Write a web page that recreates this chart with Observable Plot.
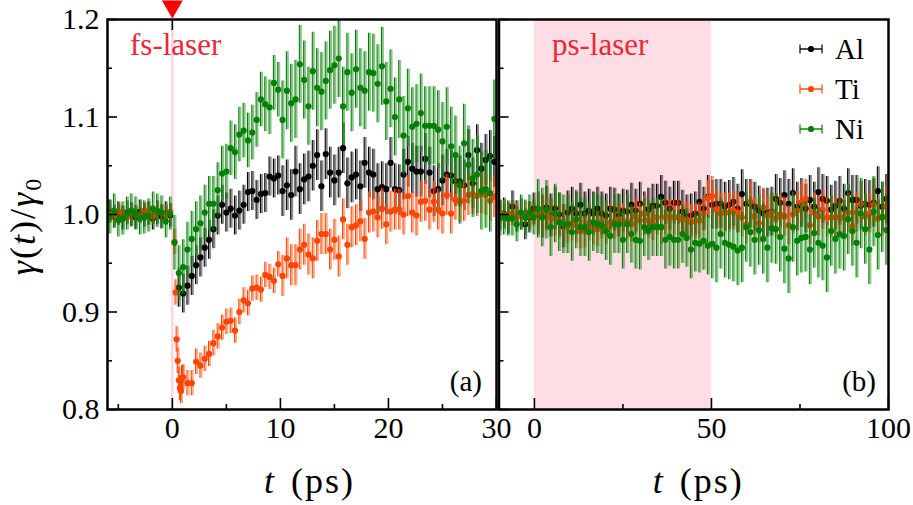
<!DOCTYPE html>
<html><head><meta charset="utf-8">
<script src="https://cdn.jsdelivr.net/npm/d3@7"></script>
<script src="https://cdn.jsdelivr.net/npm/@observablehq/plot@0.6"></script>
<style>
html,body{margin:0;padding:0;background:#fff;}
#chart{position:relative;width:913px;height:505px;}
#chart svg{position:absolute;left:0;top:0;}
#chart svg text{font-family:"Liberation Serif","Times New Roman","DejaVu Serif",serif;}
</style></head><body><div id="chart"></div>
<script>
// ---------- data ----------
const seriesNames = ["Al", "Ti", "Ni"];
const seriesColors = ["#000000", "#ff4500", "#008000"];

// panel (a): fs-laser, time in ps
const tLeft = [-5.8,-5.4,-5.0,-4.6,-4.2,-3.8,-3.4,-3.0,-2.6,-2.2,-1.8,-1.4,-1.0,-0.6,-0.2,
  0.2,0.6,1.0,1.4,1.8,2.2,2.6,3.0,3.4,3.8,
  4.2,4.6,5.0,5.4,5.8,6.2,6.6,7.0,7.4,7.8,
  8.2,8.6,9.0,9.4,9.8,10.2,10.6,11.0,11.4,11.8,
  12.2,12.6,13.0,13.4,13.8,14.2,14.6,15.0,15.4,15.8,
  16.2,16.6,17.0,17.4,17.8,18.2,18.6,19.0,19.4,19.8,
  20.2,20.6,21.0,21.4,21.8,22.2,22.6,23.0,23.4,23.8,
  24.2,24.6,25.0,25.4,25.8,26.2,26.6,27.0,27.4,27.8,
  28.2,28.6,29.0,29.4,29.8];
const alLeft = [1.003,0.998,1.001,0.996,1.002,1.000,0.997,1.003,0.999,1.001,0.996,1.002,0.998,1.001,0.999,
  null,0.925,0.919,0.927,0.937,0.948,0.956,0.966,0.974,0.985,
  0.999,1.010,1.002,1.006,0.999,1.004,1.010,1.023,1.024,1.015,
  1.021,1.022,1.039,1.037,1.040,1.024,1.030,1.020,1.044,1.026,
  1.036,1.039,1.050,1.061,1.029,1.062,1.043,1.035,1.043,1.068,
  1.032,1.038,1.041,1.029,1.053,1.043,1.041,1.026,1.028,1.026,
  1.053,1.026,1.025,1.041,1.054,1.047,1.044,1.044,1.057,1.043,
  1.024,1.026,1.035,1.041,1.040,1.034,1.034,1.030,1.061,1.032,
  1.066,1.047,1.056,1.060,1.054];
const tiLeft = [1.000,0.998,1.003,1.001,0.997,1.002,1.000,0.999,1.004,1.001,0.998,1.003,1.002,1.000,1.003,
  0.972,0.830,0.833,0.827,0.827,0.849,0.845,0.852,0.857,0.868,
  0.875,0.884,0.890,0.891,0.881,0.900,0.912,0.909,0.924,0.925,
  0.923,0.938,0.936,0.932,0.949,0.937,0.955,0.948,0.948,0.964,
  0.969,0.959,0.955,0.973,0.980,0.980,0.964,0.974,0.957,0.995,
  0.969,0.987,0.989,0.993,0.975,1.002,1.003,0.997,1.006,0.990,
  1.003,1.005,1.005,1.000,1.019,1.002,0.999,1.013,1.014,1.005,
  1.013,1.005,1.001,1.020,1.001,1.015,1.013,1.014,1.020,1.021,
  1.019,1.022,1.020,1.014,1.018];
const niLeft = [0.997,1.004,0.994,0.996,1.001,1.004,1.001,0.996,0.997,0.999,1.006,1.004,1.002,0.993,1.001,
  0.971,0.940,0.946,0.964,0.975,0.985,0.991,1.002,1.011,1.011,
  1.025,1.042,1.044,1.068,1.064,1.082,1.086,1.076,1.084,1.097,
  1.118,1.113,1.110,1.135,1.128,1.097,1.127,1.114,1.118,1.154,
  1.138,1.111,1.147,1.130,1.126,1.137,1.148,1.153,1.160,1.111,
  1.146,1.125,1.149,1.130,1.127,1.146,1.145,1.134,1.152,1.116,
  1.129,1.100,1.118,1.081,1.109,1.090,1.093,1.104,1.091,1.091,
  1.091,1.087,1.075,1.090,1.070,1.061,1.030,1.073,1.051,1.037,
  1.041,1.024,1.026,1.022,1.098];
// extra dense Ti samples right after the fs pulse
const tTiExtra = [0.3, 0.4, 0.5, 0.7, 0.8, 0.9];
const tiExtra = [0.920, 0.872, 0.850, 0.822, 0.819, 0.832];

// error-bar half widths, by time segment (before 0 / 0-10 ps / after 10 ps)
const errBreaksLeft = [0, 10];
const errLeft = [[0.012, 0.020, 0.026], [0.008, 0.013, 0.021], [0.017, 0.028, 0.040]];

// panel (b): ps-laser
const tRight = [-9.8,-8.6,-7.4,-6.2,-5.0,-3.8,-2.6,-1.4,-0.2,1.0,
  2.2,3.4,4.6,5.8,7.0,8.2,9.4,10.6,11.8,13.0,
  14.2,15.4,16.6,17.8,19.0,20.2,21.4,22.6,23.8,25.0,
  26.2,27.4,28.6,29.8,31.0,32.2,33.4,34.6,35.8,37.0,
  38.2,39.4,40.6,41.8,43.0,44.2,45.4,46.6,47.8,49.0,
  50.2,51.4,52.6,53.8,55.0,56.2,57.4,58.6,59.8,61.0,
  62.2,63.4,64.6,65.8,67.0,68.2,69.4,70.6,71.8,73.0,
  74.2,75.4,76.6,77.8,79.0,80.2,81.4,82.6,83.8,85.0,
  86.2,87.4,88.6,89.8,91.0,92.2,93.4,94.6,95.8,97.0,
  98.2,99.4];
const alRight = [0.999,1.001,0.996,1.008,0.998,1.000,0.990,0.997,1.006,1.001,
  0.998,1.007,0.999,1.006,1.000,0.988,1.002,1.006,1.001,1.010,
  1.001,1.004,1.001,1.006,1.001,0.999,1.006,1.005,0.999,1.004,
  1.003,1.010,1.004,1.011,1.001,1.005,1.009,1.009,1.018,1.012,
  1.006,1.012,1.012,1.003,0.998,0.999,1.001,1.013,1.006,1.018,
  1.010,1.011,1.011,1.008,1.010,1.013,1.006,1.021,1.011,1.011,
  1.008,1.004,1.001,1.002,1.003,1.016,1.012,1.020,1.011,1.022,
  1.008,1.012,1.006,1.015,1.008,1.023,1.016,1.014,1.005,1.009,
  1.014,1.006,1.022,1.015,1.015,1.009,1.011,1.010,1.012,1.024,
  1.008,1.016];
const tiRight = [1.002,0.999,1.000,1.001,0.998,1.000,1.001,0.999,1.000,1.002,
  0.998,1.001,0.997,0.996,0.993,0.992,0.988,0.991,0.989,0.983,
  0.984,0.991,0.987,0.985,0.993,0.987,0.992,0.993,0.995,0.993,
  0.993,0.990,0.998,0.994,1.001,0.994,0.991,0.997,0.987,0.997,
  0.997,0.997,0.997,0.995,0.995,0.992,0.993,0.994,1.001,1.017,
  1.019,1.005,1.001,1.002,1.002,1.004,1.002,0.997,0.990,1.013,
  0.998,0.991,1.007,0.999,1.002,0.996,1.000,0.998,0.989,1.000,
  1.004,1.012,1.016,0.989,1.002,0.998,1.005,0.997,0.997,0.997,
  0.997,0.997,1.002,0.988,1.002,1.011,0.998,1.001,1.010,0.996,
  0.998,1.009];
const niRight = [0.996,0.997,0.996,0.996,0.990,1.002,0.997,1.002,0.997,1.006,
  0.997,1.005,0.987,1.001,0.992,0.990,0.990,0.982,0.995,0.987,
  0.987,0.982,0.992,0.990,0.989,0.983,0.978,0.990,0.990,0.974,
  0.990,0.980,0.974,0.973,0.987,0.983,0.987,0.987,0.987,0.974,
  0.977,0.974,0.974,0.980,0.976,0.964,0.971,0.970,0.973,0.968,
  0.970,0.966,0.980,0.971,0.969,0.967,0.963,0.966,0.987,0.982,
  0.974,0.984,0.975,0.966,0.986,0.985,0.977,0.965,0.955,0.987,
  0.973,0.976,0.977,0.964,0.981,0.971,0.968,0.956,0.983,0.975,
  0.980,0.978,0.995,0.983,0.971,1.001,0.985,0.964,1.003,0.979,
  0.997,0.984];
const errBreaksRight = [0, 50];
const errRight = [[0.016, 0.022, 0.025], [0.012, 0.018, 0.020], [0.018, 0.030, 0.036]];

// axes
const yDomain = [0.8, 1.2];
const yMajor = [0.8, 0.9, 1.0, 1.1, 1.2];
const yMinor = [0.85, 0.95, 1.05, 1.15];
const xLeftDomain = [-6, 30];
const xLeftMajor = [0, 10, 20, 30];
const xLeftMinor = [-5, 5, 15, 25];
const xRightDomain = [-10, 100];
const xRightMajor = [0, 50, 100];
const xRightMinor = [25, 75];
const laserPulse = [0];          // fs pulse time
const psBand = [[0, 50]];        // ps pulse window

// ---------- drawing ----------
const W = 913, H = 505;
const FONT = "'Liberation Serif', 'Times New Roman', 'DejaVu Serif', serif";
const frameTop = 19, frameBottom = 409;
const leftL = 107, leftR = 496, rightL = 498.5, rightR = 888;

function errAt(t, breaks, errs) { let i = 0; while (i < breaks.length && t >= breaks[i]) i++; return errs[i]; }
function rows(ts, vals, breaks, errs) {
  return ts.map((t, i) => ({t, v: vals[i], e: errAt(t, breaks, errs)})).filter(d => d.v != null && d.v !== undefined);
}
function seriesMarks(data, color) {
  return [
    Plot.ruleX(data, {x: "t", y1: d => d.v - d.e, y2: d => d.v + d.e, stroke: color, strokeOpacity: 0.45, strokeWidth: 2, dx: 1, clip: true}),
    Plot.ruleX(data, {x: "t", y1: d => d.v - d.e, y2: d => d.v + d.e, stroke: color, strokeWidth: 1.1, dx: -0.5, clip: true}),
    Plot.dot(data, {x: "t", y: "v", r: 3.1, fill: color, clip: true})
  ];
}
const TW = 1.6;
function axisMarks(xMajor, xMinor, withYLabels) {
  const m = [
    // inward ticks: outward ticks shifted back across the frame line
    Plot.axisY({ticks: yMajor, tickSize: 10, dx: 10, fill: "none", strokeWidth: TW, label: null}),
    Plot.axisY({ticks: yMinor, tickSize: 5, dx: 5, fill: "none", strokeWidth: TW, label: null}),
    Plot.axisX({ticks: xMajor, tickSize: 11, dy: -11, fill: "none", strokeWidth: TW, label: null}),
    Plot.axisX({ticks: xMinor, tickSize: 5, dy: -5, fill: "none", strokeWidth: TW, label: null}),
    Plot.axisX({ticks: xMajor, tickSize: 0, tickPadding: 7, tickFormat: d3.format("d"), label: null})
  ];
  if (withYLabels) m.push(Plot.axisY({ticks: yMajor, tickSize: 0, tickPadding: 8, tickFormat: d3.format(".1f"), label: null}));
  return m;
}
const downTriangle = {draw(ctx) { ctx.moveTo(-10.5, -9); ctx.lineTo(10.5, -9); ctx.lineTo(0, 9); ctx.closePath(); }};

const leftData = [
  rows(tLeft, alLeft, errBreaksLeft, errLeft[0]),
  rows(tLeft, tiLeft, errBreaksLeft, errLeft[1]).concat(rows(tTiExtra, tiExtra, errBreaksLeft, errLeft[1])),
  rows(tLeft, niLeft, errBreaksLeft, errLeft[2])
];
const rightData = [
  rows(tRight, alRight, errBreaksRight, errRight[0]),
  rows(tRight, tiRight, errBreaksRight, errRight[1]),
  rows(tRight, niRight, errBreaksRight, errRight[2])
];

const style = {fontFamily: FONT, fontSize: "30px", background: "transparent", color: "#000"};

const left = Plot.plot({
  width: W, height: H,
  marginLeft: leftL, marginRight: W - leftR, marginTop: frameTop, marginBottom: H - frameBottom,
  x: {domain: xLeftDomain}, y: {domain: yDomain},
  style,
  marks: [
    Plot.ruleX(laserPulse, {x: d => d, stroke: "#ffd6df", strokeWidth: 2.5}),
    ...leftData.flatMap((d, i) => seriesMarks(d, seriesColors[i])),
    Plot.frame({stroke: "#000", strokeWidth: 2.5}),
    ...axisMarks(xLeftMajor, xLeftMinor, true),
    Plot.axisX({anchor: "top", ticks: laserPulse, tickSize: 10, dy: 10, fill: "none", strokeWidth: TW, label: null}),
    Plot.dot(laserPulse, {x: d => d, frameAnchor: "top", symbol: downTriangle, fill: "#ff0000", dy: -10})
  ]
});

const right = Plot.plot({
  width: W, height: H,
  marginLeft: rightL, marginRight: W - rightR, marginTop: frameTop, marginBottom: H - frameBottom,
  x: {domain: xRightDomain}, y: {domain: yDomain},
  style,
  marks: [
    Plot.rect(psBand, {x1: d => d[0], x2: d => d[1], fill: "#ffdde4"}),
    ...rightData.flatMap((d, i) => seriesMarks(d, seriesColors[i])),
    Plot.frame({stroke: "#000", strokeWidth: 2.5}),
    ...axisMarks(xRightMajor, xRightMinor, false)
  ]
});

const chart = document.getElementById("chart");
chart.appendChild(left);
chart.appendChild(right);

// ---------- annotations ----------
const sl = d3.select(left), sr = d3.select(right);
const xr = right.scale("x");

function label(sel, x, y, parts, size, opts = {}) {
  const t = sel.append("text").attr("x", x).attr("y", y)
    .style("font-family", FONT).attr("font-size", size)
    .attr("fill", opts.fill || "#000").attr("text-anchor", opts.anchor || "start");
  if (opts.transform) t.attr("transform", opts.transform).attr("x", 0).attr("y", 0);
  if (opts.spacing) t.attr("letter-spacing", opts.spacing);
  for (const p of parts) {
    const s = t.append("tspan").text(p.text);
    if (p.italic) s.attr("font-style", "italic");
    if (p.size) s.attr("font-size", p.size);
    if (p.dy) s.attr("dy", p.dy);
    if (p.dx) s.attr("dx", p.dx);
  }
  return t;
}
// laser labels
label(sl, leftL + 23, 55, [{text: "fs-laser"}], 31, {fill: "#ee2638"});
label(sr, xr.apply(0) + 18, 55, [{text: "ps-laser"}], 31, {fill: "#ee2638"});
// panel tags
label(sl, leftR - 14, 391, [{text: "(a)"}], 29, {anchor: "end"});
label(sr, rightR - 12, 391, [{text: "(b)"}], 29, {anchor: "end"});
// x-axis titles
const xTitle = [{text: "t", italic: true}, {text: " (ps)", dx: 4}];
label(sl, (leftL + leftR) / 2 + 8, 493, xTitle, 36, {anchor: "middle", spacing: "2px"});
label(sr, (rightL + rightR) / 2 + 5, 493, xTitle, 36, {anchor: "middle", spacing: "2px"});
// y-axis title
label(sl, 0, 0, [
  {text: "γ", italic: true}, {text: "("}, {text: "t", italic: true}, {text: ")/"},
  {text: "γ", italic: true}, {text: "0", size: 24, dy: 6}
], 36, {anchor: "middle", transform: `translate(35,${(frameTop + frameBottom) / 2 + 12}) rotate(-90)`, spacing: "2px"});

// legend
const lg = sr.append("g");
seriesNames.forEach((name, i) => {
  const y0 = 49 + 40 * i, c = seriesColors[i];
  const g = lg.append("g");
  g.append("line").attr("x1", 800).attr("x2", 822).attr("y1", y0).attr("y2", y0).attr("stroke", c).attr("stroke-width", 1.4);
  [800, 822].forEach(x => g.append("line").attr("x1", x).attr("x2", x).attr("y1", y0 - 4.5).attr("y2", y0 + 4.5)
    .attr("stroke", c).attr("stroke-opacity", 0.6).attr("stroke-width", 2));
  g.append("circle").attr("cx", 811).attr("cy", y0).attr("r", 3.1).attr("fill", c);
  label(lg, 835, y0 + 10, [{text: name}], 29);
});
</script>
</body></html>
